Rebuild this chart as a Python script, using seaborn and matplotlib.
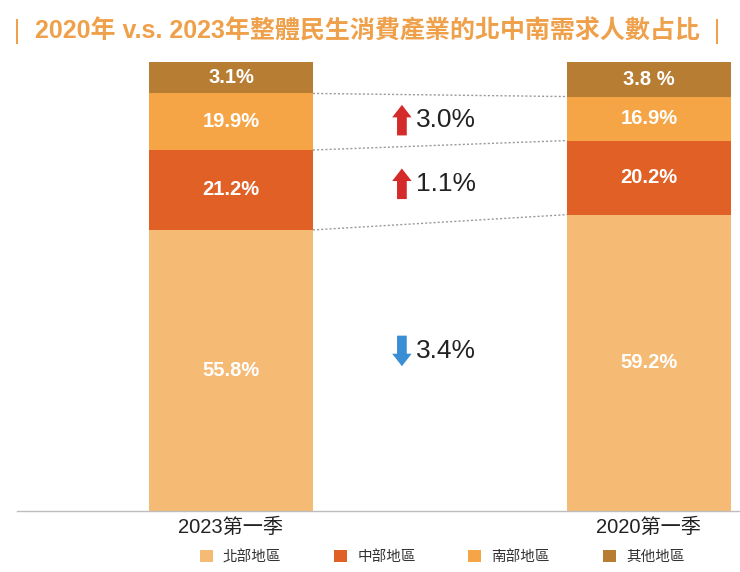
import numpy as np
import pandas as pd
import matplotlib
matplotlib.use("Agg")
import matplotlib.pyplot as plt
from matplotlib.patches import Patch, FancyArrowPatch
import seaborn as sns

# ======================================
# DATA
# ======================================
periods = ["2023第一季", "2020第一季"]
regions = ["北部地區", "中部地區", "南部地區", "其他地區"]

# segment heights as drawn in the reference (bottom -> top)
north_height = [62.6, 66.0]
central_height = [17.8, 16.5]
south_height = [12.6, 9.8]
other_height = [7.0, 7.7]

# printed labels
north_label = ["55.8%", "59.2%"]
central_label = ["21.2%", "20.2%"]
south_label = ["19.9%", "16.9%"]
other_label = ["3.1%", "3.8 %"]

# change arrows (region index, direction, text)
change_region = [2, 1, 0]
change_dir = ["up", "up", "down"]
change_text = ["3.0%", "1.1%", "3.4%"]

colors = ["#F5BA74", "#E06026", "#F5A545", "#B67D33"]
TITLE_COLOR = "#EFA04A"
LATIN_CJK = ["Liberation Sans", "Noto Sans CJK TC", "DejaVu Sans"]

# ======================================
# STYLE
# ======================================
sns.set_style("white")
plt.rcParams["font.family"] = ["Noto Sans CJK TC", "DejaVu Sans"]

df = pd.DataFrame({
    "period": periods,
    "north": north_height,
    "central": central_height,
    "south": south_height,
    "other": other_height,
})
cols = ["north", "central", "south", "other"]
stack = df[cols].cumsum(axis=1)

fig = plt.figure(figsize=(7.4, 5.72), dpi=100)
ax = fig.add_axes([17 / 740, 61 / 572, 723 / 740, 449 / 572])

BAR_W = 0.392
# draw from the top of the stack downward so each layer covers the one below
for col, color in zip(cols[::-1], colors[::-1]):
    sns.barplot(x=df["period"], y=stack[col], color=color, width=BAR_W,
                saturation=1, linewidth=0, ax=ax, order=periods)

ax.set_xlim(-0.512, 1.218)
ax.set_ylim(0, 100)

# white value labels
labels = [north_label, central_label, south_label, other_label]
for i in range(len(periods)):
    bottom = 0
    for col, lab in zip(cols, labels):
        h = df.loc[i, col]
        ax.text(i, bottom + h / 2, lab[i], ha="center", va="center",
                color="white", fontsize=14.5, fontweight="bold",
                family=["Liberation Sans", "DejaVu Sans"])
        bottom += h

# dotted connectors between segment boundaries
for col in ["north", "central", "south"]:
    ax.plot([BAR_W / 2, 1 - BAR_W / 2], [stack.loc[0, col], stack.loc[1, col]],
            color="#9A9A9A", lw=1, ls=(0, (1.5, 1.5)))

# change arrows
ARROW_X = 0.409
TEXT_X = 0.443
px = fig.dpi / 72
for reg, d, txt in zip(change_region, change_dir, change_text):
    col = cols[reg]
    lo = stack[cols[reg - 1]] if reg > 0 else pd.Series([0.0, 0.0])
    y = ((lo + stack[col]) / 2).mean()
    if reg == 0:
        y += 3.5  # the down arrow sits a bit above the middle
    if d == "up":
        c, start, end = "#D42A2A", -11, 11
    else:
        c, start, end = "#3A8FD4", 11, -11
    bx, by = ax.transData.transform((ARROW_X, y))
    arr = FancyArrowPatch((bx, by + start * px), (bx, by + end * px), transform=None,
                          arrowstyle="simple,head_length=9,head_width=14,tail_width=7",
                          mutation_scale=1, color=c, lw=0, shrinkA=0, shrinkB=0)
    fig.patches.append(arr)
    ax.text(TEXT_X, y, txt, ha="left", va="center", fontsize=19,
            color="#222222", family=["Liberation Sans", "DejaVu Sans"])

# axes cosmetics
sns.despine(ax=ax, left=True, top=True, right=True)
ax.spines["bottom"].set_color("#BDBDBD")
ax.spines["bottom"].set_linewidth(1)
ax.set_yticks([])
ax.set_xlabel("")
ax.set_ylabel("")
ax.tick_params(axis="x", length=0, pad=5)
ax.set_xticks([0, 1])
ax.set_xticklabels(periods, fontsize=14.5, color="#222222", family=LATIN_CJK)

# title
fig.text(367 / 740, 1 - 31 / 572,
         "2020年 v.s. 2023年整體民生消費產業的北中南需求人數占比",
         ha="center", va="center", fontsize=18, fontweight="bold",
         color=TITLE_COLOR, family=LATIN_CJK)
for xp in [17, 717]:
    fig.text(xp / 740, 1 - 31 / 572, "|", ha="center", va="center",
             fontsize=17, color=TITLE_COLOR, family=["DejaVu Sans"])

# legend
handles = [Patch(facecolor=c, edgecolor="none") for c in colors]
fig.legend(handles, regions, loc="center", ncol=4,
           bbox_to_anchor=(442 / 740, 1 - 557 / 572), frameon=False,
           fontsize=10.5, handlelength=0.9, handleheight=0.9,
           handletextpad=0.7, columnspacing=3.6, labelcolor="#333333")

fig.savefig("out.png", dpi=100)
